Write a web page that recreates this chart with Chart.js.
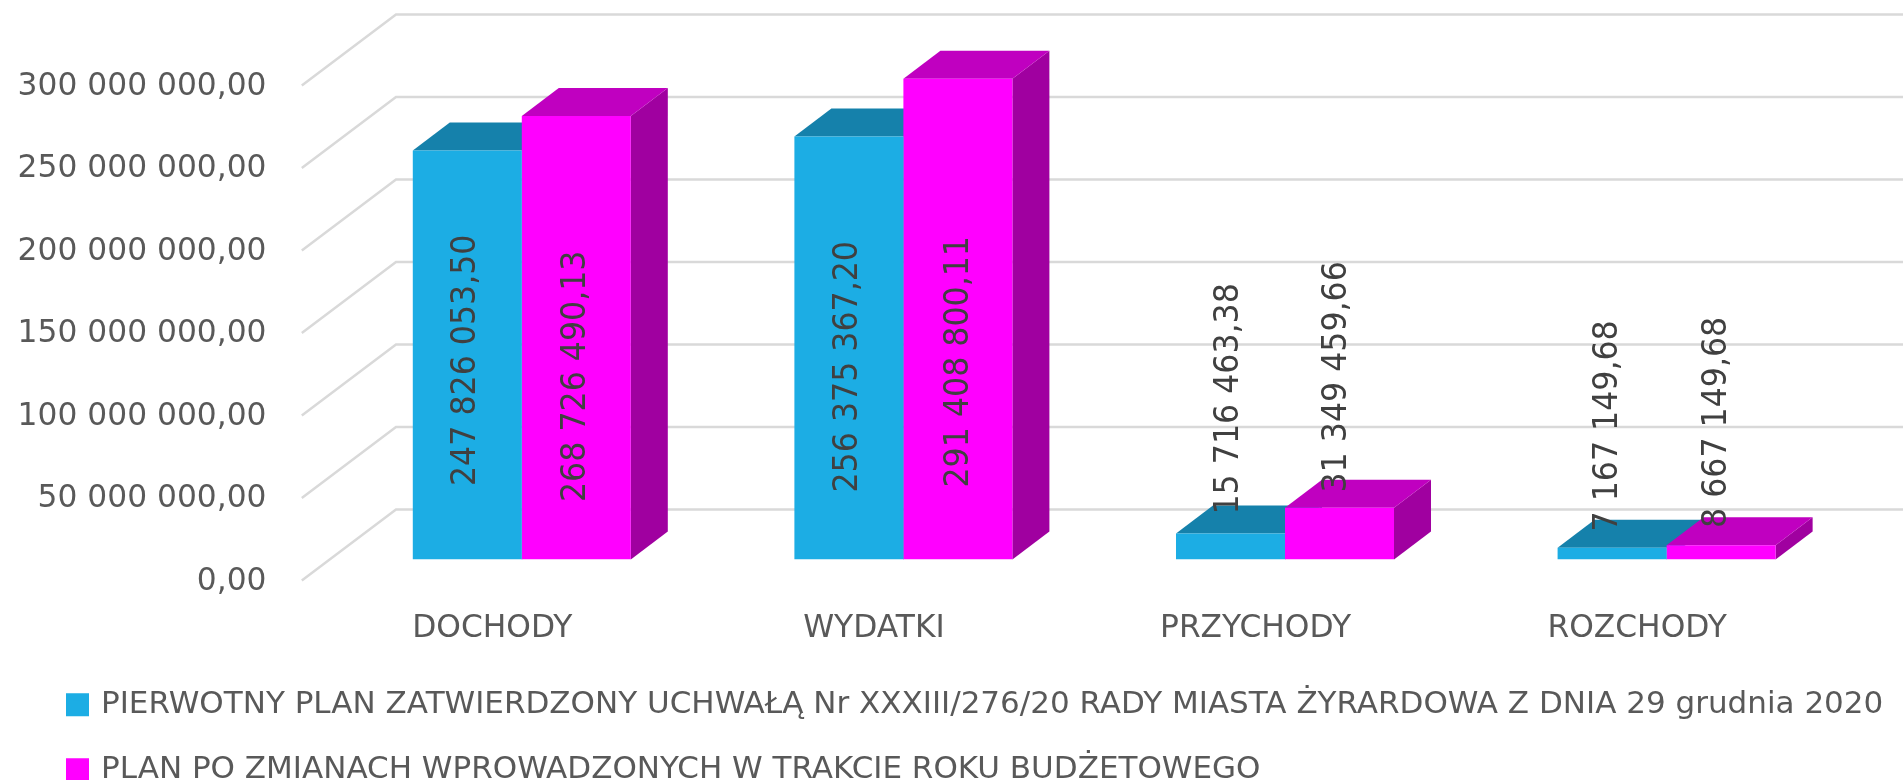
<!DOCTYPE html>
<html><head><meta charset="utf-8">
<style>html,body{margin:0;padding:0;background:#fff;overflow:hidden;width:1903px;height:780px}canvas{display:block}</style>
<script src="https://cdn.jsdelivr.net/npm/chart.js@4/dist/chart.umd.js"></script>
</head><body>
<canvas id="c" width="1903" height="780"></canvas>
<script>
const categories = ['DOCHODY', 'WYDATKI', 'PRZYCHODY', 'ROZCHODY'];
const seriesNames = [
  'PIERWOTNY PLAN ZATWIERDZONY UCHWAŁĄ Nr XXXIII/276/20 RADY MIASTA ŻYRARDOWA Z DNIA 29 grudnia 2020',
  'PLAN PO ZMIANACH WPROWADZONYCH W TRAKCIE ROKU BUDŻETOWEGO'
];
const plan = [247826053.50, 256375367.20, 15716463.38, 7167149.68];
const changed = [268726490.13, 291408800.11, 31349459.66, 8667149.68];

const fmt = v => {
  const [i, d] = v.toFixed(2).split('.');
  return i.replace(/\B(?=(\d{3})+$)/g, ' ') + ',' + d;
};
const FONT = '"DejaVu Sans", sans-serif';
const TEXT_SIZE = 31.3;
const LEGEND_SIZE = 31;
const faces = [
  {front: '#1CADE4', top: '#1581AB', side: '#1581AB'},
  {front: '#FF00FF', top: '#C000C0', side: '#A000A0'}
];
const D = {dx: 37, dy: 28};
const wall = {frontX: -29.2, backX: 65, frontY: 21, backY: -50};
// how far above the axis baseline each rotated label starts, and its sideways nudge
const labelRaise = [[73.5, 67, 45, 28], [57.5, 72, 67, 31.5]];
const labelNudge = [[-1.6, -0.4, -1.6, -4], [0.2, 0.9, -2.2, -4]];

const scene3d = {
  id: 'scene3d',
  afterLayout(chart) {
    // the legend box is clipped to itself: give it room up to the canvas edge
    chart.legend.left = 35.5;
    chart.legend.right = chart.width;
  },
  beforeDatasetsDraw(chart) {
    const {ctx, scales: {y}, chartArea: a} = chart;
    ctx.save();
    ctx.strokeStyle = '#D9D9D9'; ctx.lineWidth = 2.5;
    y.ticks.forEach(t => {
      const p = y.getPixelForValue(t.value);
      ctx.beginPath();
      ctx.moveTo(a.left + wall.frontX, p + wall.frontY);
      ctx.lineTo(a.left + wall.backX, p + wall.backY);
      ctx.lineTo(chart.width, p + wall.backY);
      ctx.stroke();
    });
    chart.data.datasets.forEach((ds, i) => {
      chart.getDatasetMeta(i).data.forEach(b => {
        const l = b.x - b.width / 2, r = b.x + b.width / 2, t = b.y, bt = b.base;
        ctx.fillStyle = faces[i].side;
        ctx.beginPath();
        ctx.moveTo(r, t); ctx.lineTo(r + D.dx, t - D.dy); ctx.lineTo(r + D.dx, bt - D.dy); ctx.lineTo(r, bt);
        ctx.closePath(); ctx.fill();
        ctx.fillStyle = faces[i].top;
        ctx.beginPath();
        ctx.moveTo(l, t); ctx.lineTo(l + D.dx, t - D.dy); ctx.lineTo(r + D.dx, t - D.dy); ctx.lineTo(r, t);
        ctx.closePath(); ctx.fill();
      });
    });
    ctx.restore();
  },
  afterDatasetsDraw(chart) {
    const {ctx} = chart;
    chart.data.datasets.forEach((ds, i) => {
      chart.getDatasetMeta(i).data.forEach((b, k) => {
        ctx.save();
        ctx.translate(b.x + labelNudge[i][k], b.base - labelRaise[i][k]);
        ctx.rotate(-Math.PI / 2);
        ctx.scale(0.93, 1);
        ctx.font = '34px ' + FONT;
        ctx.fillStyle = '#404040';
        ctx.textAlign = 'left';
        ctx.textBaseline = 'middle';
        ctx.fillText(fmt(ds.data[k]), 0, 0);
        ctx.restore();
      });
    });
  }
};

new Chart(document.getElementById('c'), {
  type: 'bar',
  data: {
    labels: categories,
    datasets: [
      {label: seriesNames[0], data: plan, backgroundColor: faces[0].front, borderWidth: 0, categoryPercentage: 0.5713, barPercentage: 1},
      {label: seriesNames[1], data: changed, backgroundColor: faces[1].front, borderWidth: 0, categoryPercentage: 0.5713, barPercentage: 1}
    ]
  },
  options: {
    responsive: false,
    animation: false,
    events: [],
    layout: {padding: {left: 0, right: 45.6, top: 64.5, bottom: -15.15}},
    scales: {
      x: {
        grid: {display: false, drawTicks: true, tickLength: 50.5}, border: {display: false},
        ticks: {color: '#595959', font: {family: FONT, size: TEXT_SIZE}, padding: 0, labelOffset: -29.5, maxRotation: 0, autoSkip: false},
        afterFit(s) { s.height = 95.65; }
      },
      y: {
        min: 0, max: 300000000,
        grid: {display: false, drawTicks: true, tickLength: 64.5}, border: {display: false},
        ticks: {stepSize: 50000000, color: '#595959', font: {family: FONT, size: TEXT_SIZE}, padding: 0, labelOffset: 22, callback: v => fmt(v)},
        afterFit(s) { s.width = 331; }
      }
    },
    plugins: {
      legend: {
        position: 'bottom', align: 'start',
        labels: {
          color: '#595959', font: {family: FONT, size: LEGEND_SIZE},
          boxWidth: 16, boxHeight: 16, padding: 34,
          generateLabels(chart) {
            return chart.data.datasets.map((d, i) => ({
              text: d.label, fontColor: '#595959', fillStyle: faces[i].front, strokeStyle: faces[i].front, lineWidth: 7, datasetIndex: i
            }));
          }
        }
      },
      tooltip: {enabled: false},
      title: {display: false}
    }
  },
  plugins: [scene3d]
});
</script>
</body></html>
